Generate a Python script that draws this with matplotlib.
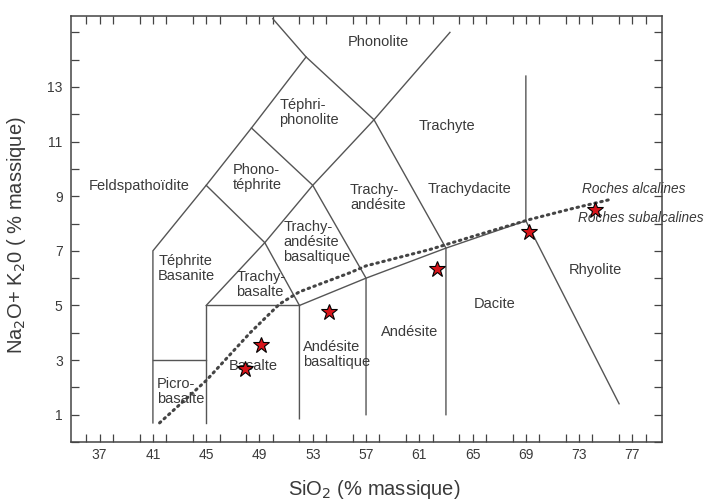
import matplotlib
matplotlib.use('Agg')
import matplotlib.pyplot as plt
from matplotlib.ticker import MultipleLocator, FixedLocator

plt.rcParams['font.family'] = ['Liberation Sans', 'DejaVu Sans']

# TAS field boundaries (SiO2, Na2O+K2O)
line_a_x = [41, 41, 45, 48.4, 52.5]
line_a_y = [0.7, 7, 9.4, 11.5, 14.1]
line_b_x = [41, 45]
line_b_y = [3, 3]
line_c_x = [45, 45, 52]
line_c_y = [0.7, 5, 5]
line_d_x = [45, 49.4, 53, 57.6, 63.3]
line_d_y = [5, 7.3, 9.4, 11.8, 15.0]
line_e_x = [45, 49.4, 52, 52]
line_e_y = [9.4, 7.3, 5, 0.85]
line_f_x = [48.4, 53, 57, 57]
line_f_y = [11.5, 9.4, 6.0, 1.0]
line_g_x = [50, 52.5, 57.6, 63, 63]
line_g_y = [15.5, 14.1, 11.8, 7.1, 1.0]
line_h_x = [52, 57, 63, 69, 69]
line_h_y = [5, 6.0, 7.1, 8.1, 13.4]
line_i_x = [69, 76]
line_i_y = [8.1, 1.4]
boundaries = [(line_a_x, line_a_y), (line_b_x, line_b_y), (line_c_x, line_c_y),
              (line_d_x, line_d_y), (line_e_x, line_e_y), (line_f_x, line_f_y),
              (line_g_x, line_g_y), (line_h_x, line_h_y), (line_i_x, line_i_y)]

# alkaline / subalkaline divide (dotted)
div_x = [41.5, 45, 48.3, 50.5, 52, 55.8, 57, 61.8, 65.5, 69.3, 72.5, 75.5]
div_y = [0.7, 2.25, 4.0, 5.05, 5.5, 6.2, 6.45, 7.05, 7.6, 8.15, 8.55, 8.9]

# samples
sio2 = [47.9, 49.15, 54.2, 62.3, 69.2, 74.2]
alk = [2.68, 3.54, 4.77, 6.33, 7.69, 8.51]

# field names: (text, x, y, ha)
fields = [
    ('Phonolite', 57.9, 14.66, 'center'),
    ('Téphri-\nphonolite', 50.5, 12.07, 'left'),
    ('Trachyte', 63.05, 11.57, 'center'),
    ('Feldspathoïdite', 40.0, 9.36, 'center'),
    ('Phono-\ntéphrite', 47.0, 9.7, 'left'),
    ('Trachy-\nandésite', 55.8, 8.96, 'left'),
    ('Trachydacite', 64.8, 9.25, 'center'),
    ('Trachy-\nandésite\nbasaltique', 50.8, 7.33, 'left'),
    ('Téphrite\nBasanite', 41.4, 6.36, 'left'),
    ('Trachy-\nbasalte', 47.25, 5.77, 'left'),
    ('Rhyolite', 74.2, 6.3, 'center'),
    ('Dacite', 66.65, 5.05, 'center'),
    ('Andésite\nbasaltique', 52.25, 3.21, 'left'),
    ('Andésite', 60.25, 4.02, 'center'),
    ('Basalte', 48.5, 2.8, 'center'),
    ('Picro-\nbasalte', 41.3, 1.85, 'left'),
]

fig = plt.figure(figsize=(7.1, 5.0), dpi=100)
ax = fig.add_axes([0.1, 0.116, 0.832, 0.852])

line_col = '#555555'
for bx, by in boundaries:
    ax.plot(bx, by, color=line_col, lw=1.0, solid_joinstyle='miter')

ax.plot(div_x, div_y, color='#444444', lw=2.2, linestyle=(0, (0.5, 1.5)),
        dash_capstyle='round')

ax.plot(sio2, alk, linestyle='none', marker='*', markersize=12,
        markerfacecolor='#d7141a', markeredgecolor='black', markeredgewidth=0.8, zorder=5)

for name, x, y, ha in fields:
    ax.text(x, y, name, ha=ha, va='center', fontsize=10.5, color='#3a3a3a', linespacing=1.1)

ax.text(73.2, 9.25, 'Roches alcalines', style='italic', fontsize=9.8,
        color='#3a3a3a', va='center', ha='left')
ax.text(72.9, 8.22, 'Roches subalcalines', style='italic', fontsize=9.8,
        color='#3a3a3a', va='center', ha='left')

ax.set_xlim(34.85, 79.2)
ax.set_ylim(0, 15.6)

ax.xaxis.set_major_locator(FixedLocator(list(range(37, 78, 4))))
ax.xaxis.set_minor_locator(MultipleLocator(2))
ax.yaxis.set_major_locator(FixedLocator(list(range(1, 14, 2))))
ax.yaxis.set_minor_locator(MultipleLocator(1))
ax.tick_params(which='both', direction='in', top=True, right=True, length=6,
               width=0.9, color='#444444', labelsize=10, labelcolor='#3a3a3a')
ax.tick_params(axis='x', pad=4)
ax.tick_params(axis='y', pad=6)
for s in ax.spines.values():
    s.set_color('#444444')
    s.set_linewidth(1.1)

ax.set_xlabel('SiO$_2$ (% massique)', fontsize=14.5, color='#3a3a3a')
ax.set_ylabel('Na$_2$O+ K$_2$0 ( % massique)', fontsize=14.5, color='#3a3a3a')
ax.xaxis.set_label_coords(0.513, -0.085)
ax.yaxis.set_label_coords(-0.073, 0.486)

plt.savefig('out.png', dpi=100)
